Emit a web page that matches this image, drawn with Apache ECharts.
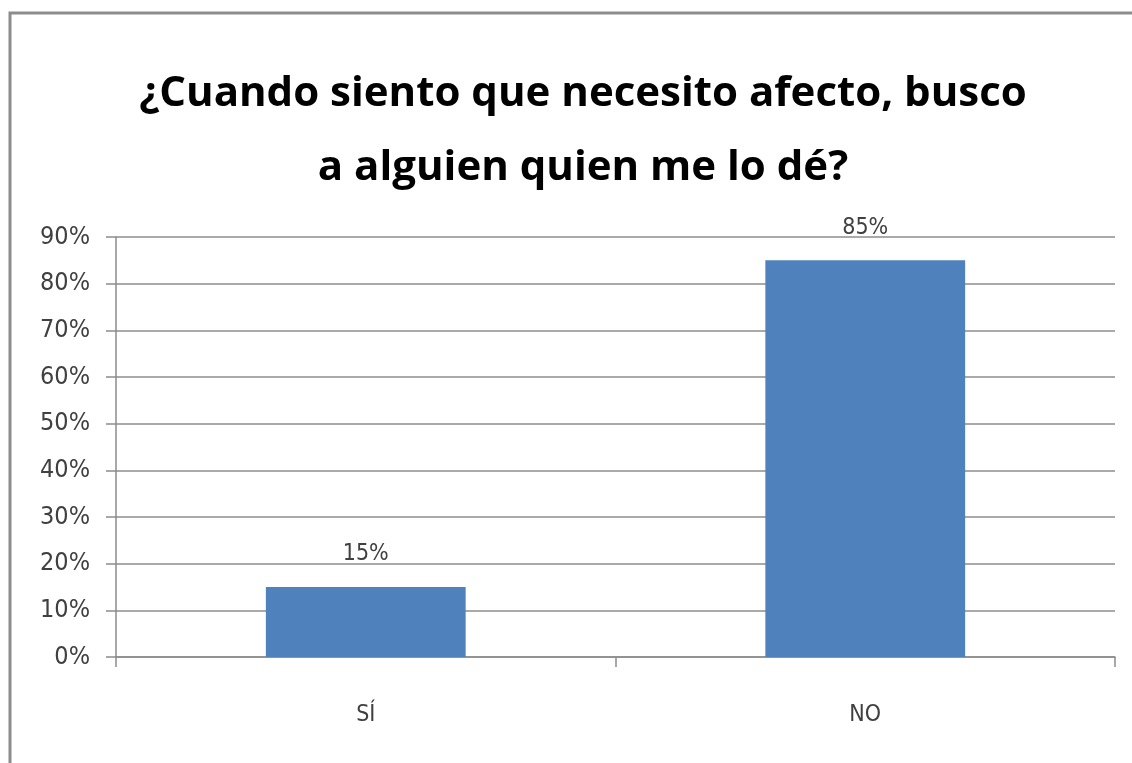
<!DOCTYPE html>
<html>
<head>
<meta charset="utf-8">
<script src="https://cdn.jsdelivr.net/npm/echarts@6/dist/echarts.min.js"></script>
<style>
html,body{margin:0;padding:0;background:#fff;}
#chart{width:1132px;height:763px;}
</style>
</head>
<body>
<div id="chart"></div>
<script>
const titleText = '¿Cuando siento que necesito afecto, busco\na alguien quien me lo dé?';
const categories = ['SÍ', 'NO'];
const values = [15, 85];
const yTicks = { min: 0, max: 90, interval: 10 };

const chart = echarts.init(document.getElementById('chart'));
const labelFont = "'Liberation Sans Narrow', 'DejaVu Sans Condensed', 'Open Sans', sans-serif";
chart.setOption({
  animation: false,
  backgroundColor: '#ffffff',
  graphic: [{
    type: 'rect',
    shape: { x: 10, y: 13, width: 1200, height: 900 },
    style: { fill: 'none', stroke: '#8c8c8c', lineWidth: 3 },
    silent: true
  }],
  title: {
    text: titleText,
    left: 578,
    top: 52,
    textAlign: 'center',
    textStyle: {
      fontFamily: "'Open Sans', sans-serif",
      fontWeight: 'bold',
      fontSize: 42,
      lineHeight: 74,
      color: '#000'
    }
  },
  grid: { left: 116, right: 17, top: 237, bottom: 106 },
  xAxis: {
    type: 'category',
    data: categories,
    axisLine: { lineStyle: { color: '#8c8c8c', width: 1.5 } },
    axisTick: { show: true, length: 10, lineStyle: { color: '#8c8c8c', width: 1.5 } },
    axisLabel: { margin: 47, fontSize: 23, color: '#404040', fontFamily: labelFont }
  },
  yAxis: {
    type: 'value',
    min: yTicks.min, max: yTicks.max, interval: yTicks.interval,
    axisLine: { show: true, lineStyle: { color: '#8c8c8c', width: 1.5 } },
    axisTick: { show: true, length: 10, lineStyle: { color: '#8c8c8c', width: 1.5 } },
    splitLine: { lineStyle: { color: '#8c8c8c', width: 1.5 } },
    axisLabel: { formatter: '{value}%', margin: 26, fontSize: 25, color: '#404040', fontFamily: labelFont }
  },
  series: [{
    type: 'bar',
    data: values,
    barWidth: '40%',
    itemStyle: { color: '#4f81bd' },
    label: {
      show: true,
      position: 'top',
      distance: 21,
      formatter: '{c}%',
      fontSize: 23,
      color: '#404040',
      fontFamily: labelFont
    }
  }]
});
</script>
</body>
</html>
